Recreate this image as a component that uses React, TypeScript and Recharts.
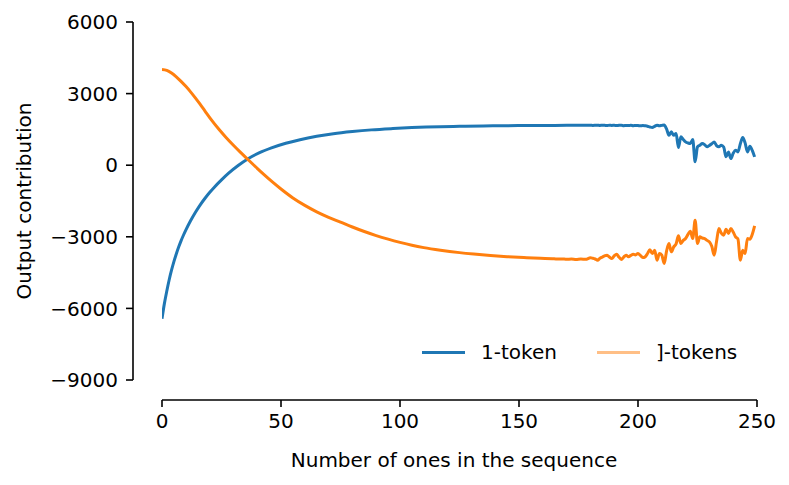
import { LineChart, Line, XAxis, YAxis, Legend } from "recharts"

// 1-token series (blue)
const oneTokenX = [
  0, 1, 2, 3, 4, 5, 6, 7, 8, 9, 10, 12, 14, 16, 18, 20, 22, 25, 28, 32, 36, 41, 46, 52, 58, 65, 72, 80, 88, 97,
  105, 111, 117, 125, 135, 145, 155, 165, 175,
  180, 181, 182, 183, 184, 185, 186, 187, 188, 189, 190, 191, 192, 193, 194, 195, 196, 197, 198, 199,
  200, 201, 202, 203, 204, 205, 206, 207, 208, 209, 210, 211, 212, 213, 214, 215, 216, 217, 218, 219,
  220, 221, 222, 223, 224, 225, 226, 227, 228, 229, 230, 231, 232, 233, 234, 235, 236, 237, 238, 239,
  240, 241, 242, 243, 244, 245, 246, 247, 248, 249,
]
const oneTokenY = [
  -6430, -5800, -5280, -4810, -4400, -4040, -3720, -3430, -3170, -2935, -2720, -2330, -1980, -1670, -1395, -1145,
  -920, -615, -335, -15, 260, 525, 725, 920, 1070, 1210, 1320, 1410, 1480, 1535,
  1575, 1596, 1613, 1630, 1645, 1655, 1662, 1667, 1671,
  1675, 1668, 1672, 1678, 1666, 1674, 1670, 1662, 1676, 1668, 1671, 1660, 1669, 1674, 1658, 1668, 1662, 1671, 1655, 1666,
  1660, 1648, 1664, 1652, 1634, 1600, 1578, 1630, 1676, 1650, 1668, 1680, 1520, 1257, 1397, 1257, 1327, 740, 1187, 1080,
  977, 930, 907, 1075, 140, 768, 840, 907, 860, 768, 830, 900, 977, 820, 768, 838, 760, 349, 558, 279,
  500, 628, 558, 900, 1159, 935, 558, 796, 620, 349,
]

// ]-tokens series (orange)
const bracketX = [
  0, 2, 4, 6, 8, 10, 12, 14, 16, 18, 21, 24, 27, 30, 33, 36, 40, 43, 46, 50, 55, 60, 65, 70, 75, 80, 85, 90, 95,
  100, 105, 110, 117, 125, 131, 138, 145, 152, 159, 164, 166, 168, 170, 172, 174, 176, 178,
  180, 181, 182, 183, 184, 185, 186, 187, 188, 189, 190, 191, 192, 193, 194, 195, 196, 197, 198, 199,
  200, 201, 202, 203, 204, 205, 206, 207, 208, 209, 210, 211, 212, 213, 214, 215, 216, 217, 218, 219,
  220, 221, 222, 223, 224, 225, 226, 227, 228, 229, 230, 231, 232, 233, 234, 235, 236, 237, 238, 239,
  240, 241, 242, 243, 244, 245, 246, 247, 248, 249,
]
const bracketY = [
  4010, 3974, 3864, 3704, 3514, 3304, 3074, 2822, 2556, 2278, 1866, 1494, 1152, 837, 537, 249, -131, -407, -671, -999,
  -1374, -1684, -1954, -2184, -2384, -2589, -2779, -2949, -3099,
  -3234, -3354, -3454, -3563, -3663, -3723, -3783, -3832, -3870, -3902, -3918, -3932, -3925, -3940, -3932, -3950, -3930, -3942,
  -3880, -3900, -3930, -3980, -3900, -3850, -3800, -3770, -3850, -3910, -3800, -3730, -3850, -3950, -3850, -3770, -3840, -3780, -3730, -3760,
  -3700, -3780, -3870, -3840, -3700, -3540, -3700, -3561, -3980, -3700, -3770, -4119, -3600, -3282, -3631, -3422, -3300, -2960, -3282, -3150,
  -3073, -2900, -2765, -3073, -2304, -3282, -3003, -3050, -3073, -3150, -3212, -3400, -3771, -3200, -2654, -2850, -2933, -2681, -2863, -2654,
  -2800, -3003, -3100, -3980, -3561, -3700, -3073, -3100, -2900, -2542,
]

const xTicks = [0, 50, 100, 150, 200, 250]
const yTicks = [-9000, -6000, -3000, 0, 3000, 6000]

const oneTokenData = oneTokenX.map((x, i) => ({ x, y: oneTokenY[i] }))
const bracketData = bracketX.map((x, i) => ({ x, y: bracketY[i] }))

const W = 789
const H = 485
const margin = { top: 22, right: 32, bottom: 25, left: 33 }
const yAxisWidth = 100
const xAxisHeight = 60
const padLeft = 29
const padBottom = 20

const plotLeft = margin.left + yAxisWidth
const plotBottom = H - margin.bottom - xAxisHeight
const plotRight = W - margin.right

const fmt = (v: number) => (v < 0 ? "\u2212" + Math.abs(v) : String(v))

const legendItems = [
  { name: "1-token", color: "#1f77b4" },
  { name: "]-tokens", color: "#ffbf86" },
]

function LegendBox() {
  return (
    <div style={{ display: "flex", alignItems: "center", fontSize: 20, color: "#000", whiteSpace: "nowrap" }}>
      {legendItems.map((it, i) => (
        <div key={it.name} style={{ display: "flex", alignItems: "center", marginRight: i === 0 ? 40 : 0 }}>
          <div style={{ width: 43, height: 3, background: it.color, marginRight: 16 }} />
          <span>{it.name}</span>
        </div>
      ))}
    </div>
  )
}

export default function App() {
  return (
    <div style={{ position: "absolute", left: 0, top: 0, width: W, height: H, background: "#fff", fontFamily: "'DejaVu Sans', sans-serif" }}>
      <LineChart width={W} height={H} margin={margin}>
        <XAxis
          type="number"
          dataKey="x"
          domain={[0, 250]}
          ticks={xTicks}
          height={xAxisHeight}
          padding={{ left: padLeft, right: 0 }}
          axisLine={false}
          tickSize={7}
          tickMargin={7}
          tickLine={{ stroke: "#000", strokeWidth: 1.6 }}
          tick={{ fill: "#000", fontSize: 20 }}
          allowDataOverflow
          label={{ value: "Number of ones in the sequence", position: "center", dx: 9, dy: 30, fill: "#000", fontSize: 20 }}
        />
        <YAxis
          type="number"
          domain={[-9000, 6000]}
          ticks={yTicks}
          width={yAxisWidth}
          padding={{ top: 0, bottom: padBottom }}
          axisLine={false}
          tickSize={7}
          tickMargin={8}
          tickLine={{ stroke: "#000", strokeWidth: 1.6 }}
          tick={{ fill: "#000", fontSize: 20 }}
          tickFormatter={fmt}
          allowDataOverflow
          label={{ value: "Output contribution", position: "center", angle: -90, dx: -59, dy: -10, fill: "#000", fontSize: 20 }}
        />
        <Line data={oneTokenData} dataKey="y" type="monotone" stroke="#1f77b4" strokeWidth={3} dot={false} isAnimationActive={false} />
        <Line data={bracketData} dataKey="y" type="monotone" stroke="#ff7f0e" strokeWidth={3} dot={false} isAnimationActive={false} />
        <Legend
          layout="horizontal"
          verticalAlign="middle"
          align="center"
          content={() => <LegendBox />}
          wrapperStyle={{ left: 422, top: 340, width: "auto", height: "auto" }}
        />
      </LineChart>
      <svg width={W} height={H} style={{ position: "absolute", left: 0, top: 0, pointerEvents: "none" }}>
        <line x1={plotLeft} x2={plotLeft} y1={margin.top} y2={plotBottom - padBottom} stroke="#000" strokeWidth={1.6} />
        <line x1={plotLeft + padLeft} x2={plotRight} y1={plotBottom} y2={plotBottom} stroke="#000" strokeWidth={1.6} />
      </svg>
    </div>
  )
}
